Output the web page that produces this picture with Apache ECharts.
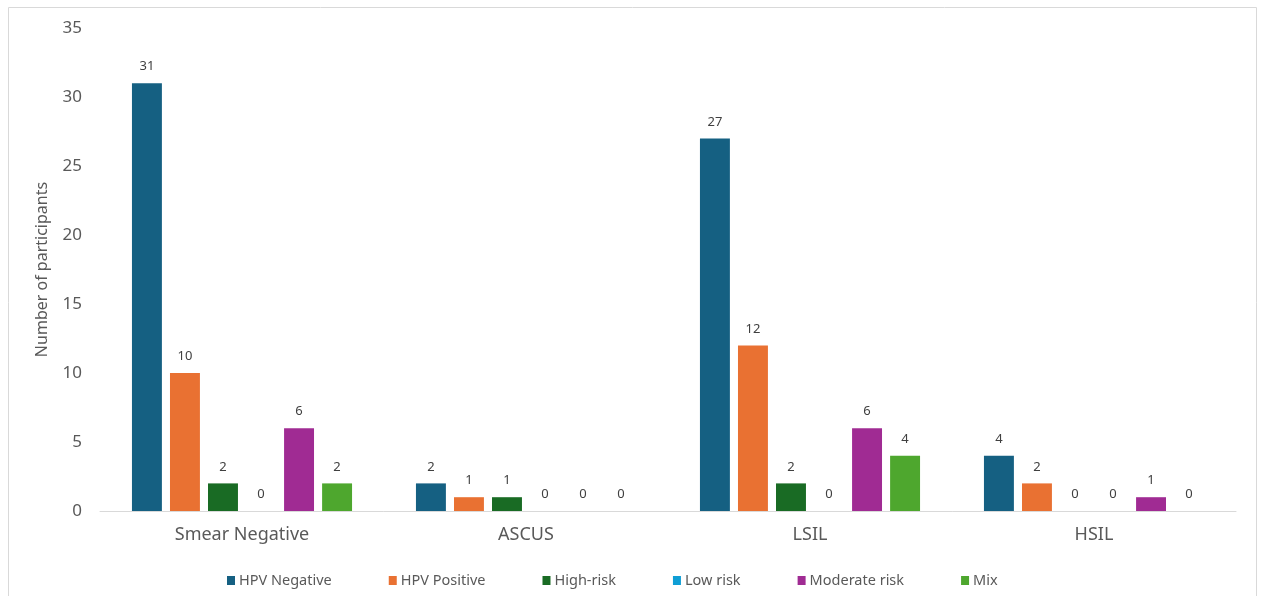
<!DOCTYPE html>
<html><head><meta charset="utf-8">
<script src="https://cdn.jsdelivr.net/npm/echarts@6/dist/echarts.min.js"></script>
<style>html,body{margin:0;padding:0;background:#fff}#c{width:1262px;height:596px}</style>
</head><body><div id="c"></div>
<script>
const categories = ['Smear Negative', 'ASCUS', 'LSIL', 'HSIL'];
const seriesNames = ['HPV Negative', 'HPV Positive', 'High-risk', 'Low risk', 'Moderate risk', 'Mix'];
const hpvNegative = [31, 2, 27, 4];
const hpvPositive = [10, 1, 12, 2];
const highRisk = [2, 1, 2, 0];
const lowRisk = [0, 0, 0, 0];
const moderateRisk = [6, 0, 6, 1];
const mix = [2, 0, 4, 0];
const colors = ['#156082', '#E97132', '#196B24', '#0F9ED5', '#A02B93', '#4EA72E'];
const allData = [hpvNegative, hpvPositive, highRisk, lowRisk, moderateRisk, mix];
const font = '"Noto Sans", sans-serif';

const chart = echarts.init(document.getElementById('c'));
chart.setOption({
  animation: false,
  color: colors,
  graphic: [{type: 'rect', shape: {x: 8.5, y: 7.5, width: 1248, height: 600}, style: {fill: 'none', stroke: '#d9d9d9', lineWidth: 1}, silent: true}],
  grid: {left: 100, right: 26, top: 28, bottom: 85, containLabel: false},
  legend: {
    bottom: 3, left: 222, itemWidth: 8, itemHeight: 9, itemGap: 57,
    icon: 'rect',
    textStyle: {color: '#595959', fontSize: 14.5, fontFamily: font, padding: [0, 0, 0, -1]},
    data: seriesNames
  },
  xAxis: {
    type: 'category', data: categories,
    axisLine: {lineStyle: {color: '#d9d9d9', width: 1}},
    axisTick: {show: false},
    axisLabel: {color: '#595959', fontSize: 18, fontFamily: font, margin: 15}
  },
  yAxis: {
    type: 'value', min: 0, max: 35, interval: 5,
    name: 'Number of participants', nameLocation: 'middle', nameGap: 50, nameRotate: 90,
    nameTextStyle: {color: '#595959', fontSize: 16, fontFamily: font},
    axisLine: {show: false}, axisTick: {show: false}, splitLine: {show: false},
    axisLabel: {color: '#595959', fontSize: 17, fontFamily: font, margin: 18}
  },
  series: seriesNames.map((n, i) => ({
    name: n, type: 'bar', data: allData[i],
    barGap: '27%', barCategoryGap: '22.5%',
    itemStyle: {color: colors[i]},
    label: {show: true, position: 'top', distance: 10, color: '#404040', fontSize: 13, fontFamily: font}
  }))
});
</script></body></html>
